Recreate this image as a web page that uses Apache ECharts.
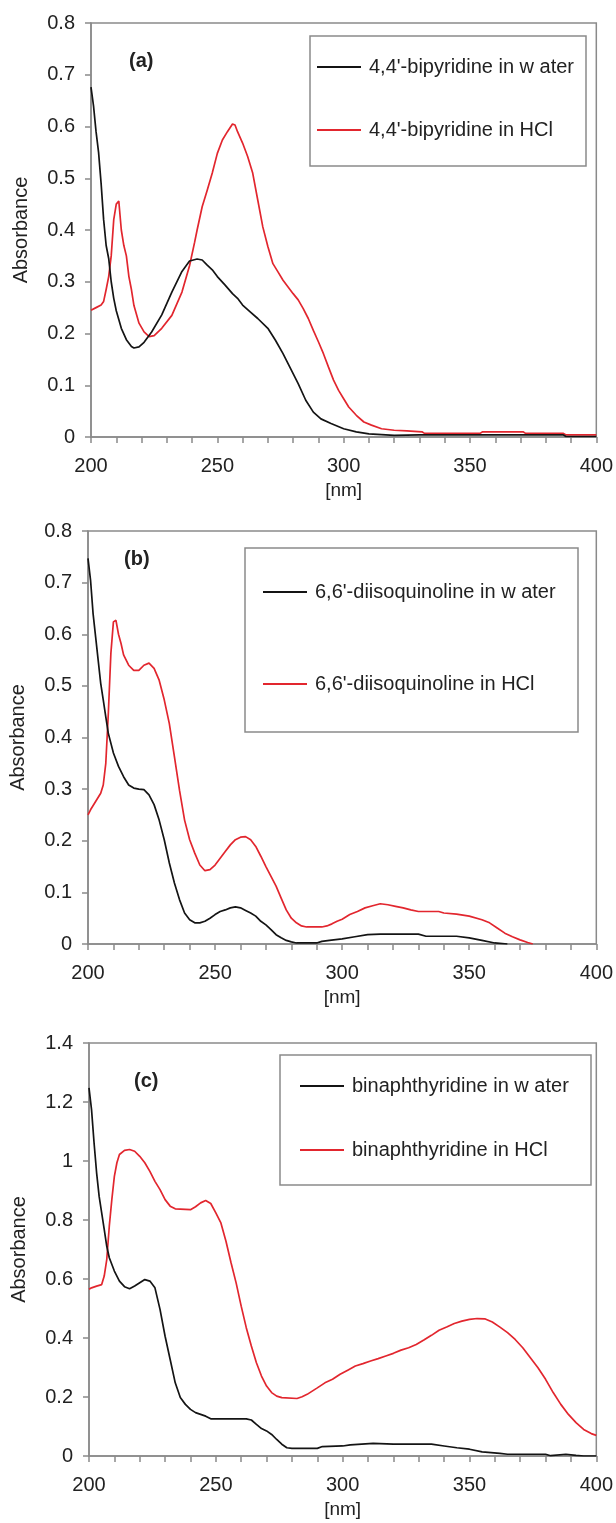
<!DOCTYPE html>
<html>
<head>
<meta charset="utf-8">
<title>UV absorption spectra</title>
<script src="https://cdn.jsdelivr.net/npm/echarts@6/dist/echarts.min.js"></script>
<style>
  html, body { margin: 0; padding: 0; background: #ffffff; }
  #chart { width: 616px; height: 1523px; }
</style>
</head>
<body>
<div id="chart"></div>
<script>
// ---- Spectra: wavelength [nm] and absorbance for each solution ----

// (a) 4,4'-bipyridine
const aWaterNm  = [200, 201, 202, 203, 204, 205, 206, 207, 208, 209, 210, 212, 214, 216, 217, 219, 221, 224, 228, 232, 236, 239, 242, 244, 246, 248, 250, 253, 256, 258, 260, 263, 266, 270, 273, 276, 279, 282, 285, 288, 291, 295, 300, 305, 310, 320, 330, 340, 350, 360, 370, 380, 387, 388, 400];
const aWaterAbs = [0.676, 0.64, 0.59, 0.55, 0.49, 0.42, 0.37, 0.345, 0.30, 0.268, 0.244, 0.21, 0.188, 0.175, 0.172, 0.174, 0.183, 0.203, 0.236, 0.28, 0.32, 0.34, 0.344, 0.342, 0.332, 0.323, 0.31, 0.294, 0.277, 0.268, 0.255, 0.242, 0.229, 0.21, 0.187, 0.161, 0.132, 0.103, 0.071, 0.048, 0.035, 0.026, 0.016, 0.01, 0.006, 0.003, 0.004, 0.004, 0.004, 0.004, 0.004, 0.004, 0.004, 0.001, 0.001];
const aHclNm    = [200, 202, 204, 205, 206, 207, 208, 209, 210, 211, 212, 213, 214, 215, 216, 217, 219, 221, 223, 225, 228, 232, 236, 239, 241, 242, 244, 246, 248, 250, 252, 254, 256, 257, 258, 260, 262, 264, 266, 268, 270, 272, 274, 276, 278, 280, 282, 284, 286, 288, 290, 292, 294, 296, 298, 300, 302, 305, 308, 311, 315, 320, 325, 331, 332, 354, 355, 371, 372, 387, 388, 400];
const aHclAbs   = [0.245, 0.25, 0.255, 0.262, 0.285, 0.31, 0.35, 0.42, 0.45, 0.456, 0.40, 0.37, 0.35, 0.31, 0.285, 0.254, 0.22, 0.203, 0.194, 0.196, 0.21, 0.235, 0.28, 0.331, 0.376, 0.40, 0.445, 0.477, 0.51, 0.548, 0.574, 0.59, 0.605, 0.603, 0.59, 0.568, 0.542, 0.51, 0.458, 0.406, 0.368, 0.335, 0.319, 0.303, 0.29, 0.277, 0.265, 0.248, 0.229, 0.206, 0.184, 0.161, 0.135, 0.11, 0.09, 0.074, 0.058, 0.042, 0.029, 0.023, 0.016, 0.013, 0.012, 0.01, 0.007, 0.007, 0.01, 0.01, 0.007, 0.007, 0.004, 0.004];

// (b) 6,6'-diisoquinoline
const bWaterNm  = [200, 201, 202, 203, 204, 205, 206, 207, 208, 210, 212, 214, 216, 218, 220, 222, 224, 226, 228, 230, 232, 234, 236, 238, 240, 242, 244, 246, 248, 250, 252, 254, 256, 258, 260, 262, 264, 266, 268, 270, 272, 274, 276, 278, 280, 282, 290, 292, 295, 300, 305, 310, 315, 330, 333, 345, 350, 355, 360, 365];
const bWaterAbs = [0.747, 0.705, 0.64, 0.595, 0.55, 0.505, 0.473, 0.44, 0.408, 0.37, 0.344, 0.324, 0.308, 0.302, 0.30, 0.299, 0.289, 0.27, 0.24, 0.202, 0.157, 0.118, 0.086, 0.06, 0.047, 0.041, 0.041, 0.044, 0.05, 0.057, 0.063, 0.066, 0.07, 0.072, 0.07, 0.065, 0.06, 0.054, 0.044, 0.037, 0.028, 0.018, 0.012, 0.007, 0.004, 0.002, 0.002, 0.005, 0.007, 0.01, 0.014, 0.018, 0.019, 0.019, 0.015, 0.015, 0.012, 0.007, 0.002, 0];
const bHclNm    = [200, 201, 203, 205, 206, 207, 208, 209, 210, 211, 212, 213, 214, 216, 218, 220, 222, 224, 226, 228, 230, 232, 234, 236, 238, 240, 242, 244, 246, 248, 250, 252, 254, 256, 258, 260, 262, 264, 266, 268, 270, 272, 274, 276, 278, 280, 282, 284, 286, 292, 294, 296, 298, 300, 303, 306, 309, 312, 315, 318, 321, 324, 327, 330, 338, 340, 345, 350, 355, 358, 361, 364, 367, 370, 373, 375];
const bHclAbs   = [0.25, 0.26, 0.276, 0.292, 0.308, 0.35, 0.447, 0.563, 0.624, 0.627, 0.60, 0.582, 0.56, 0.54, 0.53, 0.53, 0.54, 0.544, 0.534, 0.511, 0.473, 0.427, 0.363, 0.298, 0.24, 0.202, 0.176, 0.153, 0.142, 0.144, 0.153, 0.166, 0.179, 0.192, 0.202, 0.207, 0.208, 0.202, 0.189, 0.17, 0.15, 0.131, 0.112, 0.089, 0.066, 0.05, 0.041, 0.035, 0.033, 0.033, 0.035, 0.039, 0.044, 0.048, 0.057, 0.063, 0.07, 0.074, 0.078, 0.076, 0.073, 0.07, 0.066, 0.063, 0.063, 0.06, 0.058, 0.054, 0.047, 0.041, 0.031, 0.021, 0.014, 0.008, 0.003, 0];

// (c) binaphthyridine
const cWaterNm  = [200, 201, 202, 203, 204, 205, 206, 207, 208, 210, 212, 214, 216, 218, 220, 222, 224, 226, 228, 230, 232, 234, 236, 238, 240, 242, 244, 246, 248, 262, 264, 266, 268, 270, 272, 274, 276, 278, 280, 290, 292, 300, 303, 312, 320, 335, 340, 345, 350, 355, 362, 365, 380, 382, 388, 392, 395, 400];
const cWaterAbs = [1.248, 1.174, 1.061, 0.96, 0.88, 0.824, 0.768, 0.711, 0.672, 0.627, 0.593, 0.574, 0.567, 0.576, 0.587, 0.598, 0.593, 0.57, 0.497, 0.406, 0.327, 0.248, 0.198, 0.175, 0.158, 0.147, 0.141, 0.135, 0.126, 0.126, 0.122, 0.107, 0.093, 0.085, 0.073, 0.056, 0.04, 0.028, 0.026, 0.026, 0.032, 0.034, 0.038, 0.043, 0.04, 0.04, 0.034, 0.028, 0.023, 0.014, 0.009, 0.006, 0.006, 0.001, 0.006, 0.002, 0, 0];
const cHclNm    = [200, 201, 203, 205, 206, 207, 208, 209, 210, 211, 212, 214, 216, 218, 220, 222, 224, 226, 228, 230, 232, 234, 240, 242, 244, 246, 248, 250, 252, 254, 256, 258, 260, 262, 264, 266, 268, 270, 272, 274, 276, 282, 284, 286, 288, 290, 293, 296, 299, 302, 305, 308, 311, 314, 317, 320, 323, 326, 329, 332, 335, 338, 341, 344, 347, 350, 353, 356, 359, 362, 365, 368, 371, 374, 377, 380, 383, 386, 389, 392, 395, 398, 400];
const cHclAbs   = [0.565, 0.57, 0.576, 0.581, 0.61, 0.666, 0.779, 0.869, 0.948, 0.994, 1.022, 1.036, 1.039, 1.033, 1.016, 0.994, 0.965, 0.931, 0.903, 0.869, 0.847, 0.838, 0.835, 0.845, 0.858, 0.866, 0.856, 0.824, 0.79, 0.728, 0.655, 0.587, 0.508, 0.435, 0.373, 0.316, 0.271, 0.237, 0.215, 0.203, 0.198, 0.195, 0.201, 0.209, 0.22, 0.231, 0.248, 0.26, 0.277, 0.291, 0.305, 0.313, 0.322, 0.33, 0.339, 0.348, 0.359, 0.367, 0.378, 0.393, 0.409, 0.426, 0.437, 0.449, 0.457, 0.463, 0.466, 0.465, 0.454, 0.437, 0.418, 0.395, 0.367, 0.333, 0.299, 0.26, 0.215, 0.175, 0.141, 0.113, 0.09, 0.076, 0.07];

// Legend entries per panel (water first, HCl second)
const aNames = ["4,4'-bipyridine in w ater", "4,4'-bipyridine in HCl"];
const bNames = ["6,6'-diisoquinoline in w ater", "6,6'-diisoquinoline in HCl"];
const cNames = ["binaphthyridine in w ater", "binaphthyridine in HCl"];

// Axis ranges and tick steps
const xRange = [200, 400];
const xStep = 50;
const yMaxes = [0.8, 0.8, 1.4];
const ySteps = [0.1, 0.1, 0.2];
const panelTags = ['(a)', '(b)', '(c)'];
const xTitle = '[nm]';
const yTitle = 'Absorbance';

// ---- Styling ----
const FONT = '"Liberation Sans", Arial, Helvetica, sans-serif';
const TEXT = '#222222';
const FRAME = '#8a8a8a';
const WATER_COLOR = '#141414';
const HCL_COLOR = '#e2262e';

const zip = (xs, ys) => xs.map((x, i) => [x, ys[i]]);

// Layout of the three stacked panels (pixels)
const layout = [
  { grid: { left: 91, top: 23, width: 507, height: 414 },
    tag: { left: 129, top: 51 },
    box: { x: 310, y: 36, w: 276, h: 130 },
    legend: { left: 317, top: 57, gap: 43 } },
  { grid: { left: 86, top: 531, width: 512, height: 413 },
    tag: { left: 124, top: 549 },
    box: { x: 245, y: 548, w: 333, h: 184 },
    legend: { left: 263, top: 582, gap: 72 } },
  { grid: { left: 89, top: 1043, width: 511, height: 413 },
    tag: { left: 134, top: 1071 },
    box: { x: 280, y: 1055, w: 311, h: 130 },
    legend: { left: 300, top: 1076, gap: 44 } }
];

const spectra = [
  { names: aNames, water: zip(aWaterNm, aWaterAbs), hcl: zip(aHclNm, aHclAbs) },
  { names: bNames, water: zip(bWaterNm, bWaterAbs), hcl: zip(bHclNm, bHclAbs) },
  { names: cNames, water: zip(cWaterNm, cWaterAbs), hcl: zip(cHclNm, cHclAbs) }
];

const axisLineStyle = { color: FRAME, width: 1.5 };

const option = {
  backgroundColor: '#ffffff',
  animation: false,
  textStyle: { fontFamily: FONT },
  title: layout.map((l, i) => ({
    text: panelTags[i],
    left: l.tag.left,
    top: l.tag.top,
    padding: 0,
    textStyle: { fontFamily: FONT, fontSize: 20, fontWeight: 'bold', color: TEXT }
  })),
  grid: layout.map(l => ({
    left: l.grid.left, top: l.grid.top, width: l.grid.width, height: l.grid.height,
    show: true, borderColor: FRAME, borderWidth: 1.5, backgroundColor: 'transparent'
  })),
  xAxis: layout.map((l, i) => ({
    type: 'value',
    gridIndex: i,
    min: xRange[0],
    max: xRange[1],
    interval: xStep,
    name: xTitle,
    nameLocation: 'middle',
    nameGap: 44,
    nameTextStyle: { fontFamily: FONT, fontSize: 19, color: TEXT },
    axisLine: { show: true, onZero: false, lineStyle: axisLineStyle },
    axisTick: { show: true, length: 6, lineStyle: axisLineStyle },
    minorTick: { show: true, splitNumber: 5, length: 6, lineStyle: axisLineStyle },
    axisLabel: { margin: 19, fontSize: 20, color: TEXT, fontFamily: FONT },
    splitLine: { show: false },
    minorSplitLine: { show: false }
  })),
  yAxis: layout.map((l, i) => ({
    type: 'value',
    gridIndex: i,
    min: 0,
    max: yMaxes[i],
    interval: ySteps[i],
    name: yTitle,
    nameLocation: 'middle',
    nameRotate: 90,
    nameGap: 60,
    nameTextStyle: { fontFamily: FONT, fontSize: 20, color: TEXT },
    axisLine: { show: true, onZero: false, lineStyle: axisLineStyle },
    axisTick: { show: true, length: 6, lineStyle: axisLineStyle },
    axisLabel: { margin: 16, fontSize: 20, color: TEXT, fontFamily: FONT },
    splitLine: { show: false }
  })),
  // Legend keys are plain line segments in the series colour
  legend: layout.map((l, i) => ({
    left: l.legend.left,
    top: l.legend.top,
    orient: 'vertical',
    itemGap: l.legend.gap,
    icon: 'rect',
    itemWidth: 44,
    itemHeight: 2,
    padding: 0,
    selectedMode: false,
    data: spectra[i].names,
    textStyle: { fontFamily: FONT, fontSize: 20, color: TEXT, lineHeight: 20, padding: [0, 0, 0, 3] }
  })),
  graphic: layout.map(l => ({
    type: 'rect',
    shape: { x: l.box.x, y: l.box.y, width: l.box.w, height: l.box.h },
    style: { fill: 'none', stroke: FRAME, lineWidth: 1.5 },
    silent: true
  })),
  series: spectra.flatMap((s, i) => [
    { name: s.names[0], type: 'line', xAxisIndex: i, yAxisIndex: i, data: s.water,
      symbol: 'none', lineStyle: { color: WATER_COLOR, width: 1.7 }, itemStyle: { color: WATER_COLOR }, z: 3 },
    { name: s.names[1], type: 'line', xAxisIndex: i, yAxisIndex: i, data: s.hcl,
      symbol: 'none', lineStyle: { color: HCL_COLOR, width: 1.7 }, itemStyle: { color: HCL_COLOR }, z: 2 }
  ])
};

const chart = echarts.init(document.getElementById('chart'), null, { renderer: 'canvas' });
chart.setOption(option);
</script>
</body>
</html>
